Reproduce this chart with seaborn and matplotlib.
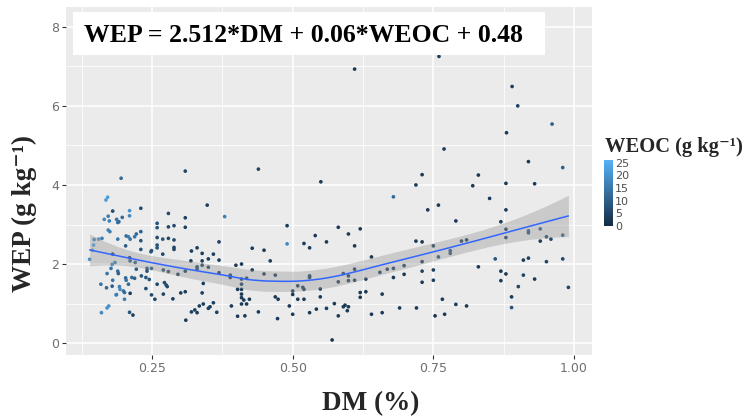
import numpy as np
import pandas as pd
import matplotlib
matplotlib.use("Agg")
import matplotlib.pyplot as plt
import seaborn as sns
from matplotlib.colors import LinearSegmentedColormap, Normalize
from matplotlib.cm import ScalarMappable
from matplotlib.patches import Rectangle
from matplotlib.ticker import FixedLocator

# Degree of mineralisation (fraction), water-extractable P and water-extractable OC per sample
dm = [
    0.195, 0.171, 0.168, 0.180, 0.172, 0.165, 0.174, 0.187, 0.189, 0.191,
    0.197, 0.172, 0.175, 0.155, 0.161, 0.189, 0.204, 0.146, 0.144, 0.139,
    0.180, 0.203, 0.184, 0.179, 0.177, 0.170, 0.189, 0.190, 0.203, 0.159,
    0.169, 0.179, 0.180, 0.192, 0.193, 0.199, 0.201, 0.187, 0.186, 0.201,
    0.173, 0.170, 0.160, 0.147,
    0.309, 0.210, 0.210, 0.230, 0.279, 0.309, 0.259, 0.259, 0.279, 0.289,
    0.309, 0.230, 0.222, 0.219, 0.208, 0.211, 0.230, 0.259, 0.269, 0.279,
    0.289, 0.289, 0.289, 0.249, 0.248, 0.259, 0.259, 0.269, 0.230, 0.210,
    0.220, 0.211, 0.222, 0.241, 0.241, 0.249, 0.270, 0.279, 0.296, 0.309,
    0.214, 0.219, 0.231, 0.239, 0.245, 0.204, 0.208, 0.259, 0.272, 0.275,
    0.277, 0.211, 0.239, 0.249, 0.255, 0.270, 0.287, 0.301, 0.309, 0.210,
    0.216,
    0.439, 0.348, 0.379, 0.369, 0.428, 0.449, 0.330, 0.320, 0.339, 0.359,
    0.350, 0.339, 0.339, 0.369, 0.319, 0.330, 0.330, 0.350, 0.369, 0.399,
    0.409, 0.389, 0.389, 0.428, 0.449, 0.409, 0.418, 0.402, 0.409, 0.409,
    0.409, 0.341, 0.339, 0.409, 0.413, 0.423, 0.418, 0.409, 0.359, 0.353,
    0.350, 0.341, 0.334, 0.326, 0.330, 0.320, 0.365, 0.310, 0.391, 0.402,
    0.415, 0.439,
    0.550, 0.490, 0.490, 0.540, 0.560, 0.581, 0.599, 0.610, 0.520, 0.530,
    0.460, 0.469, 0.530, 0.530, 0.590, 0.599, 0.610, 0.610, 0.599, 0.581,
    0.509, 0.518, 0.520, 0.500, 0.500, 0.549, 0.469, 0.474, 0.509, 0.520,
    0.549, 0.494, 0.542, 0.560, 0.574, 0.590, 0.593, 0.599, 0.597, 0.500,
    0.530, 0.581, 0.473, 0.570, 0.610,
    0.730, 0.719, 0.679, 0.759, 0.740, 0.620, 0.719, 0.730, 0.750, 0.759,
    0.640, 0.630, 0.655, 0.668, 0.679, 0.698, 0.698, 0.679, 0.730, 0.730,
    0.750, 0.750, 0.730, 0.620, 0.630, 0.620, 0.659, 0.640, 0.659, 0.690,
    0.720, 0.753, 0.770, 0.766,
    0.769, 0.830, 0.820, 0.879, 0.850, 0.879, 0.790, 0.870, 0.879, 0.879,
    0.800, 0.809, 0.780, 0.780, 0.860, 0.830, 0.870, 0.879, 0.870, 0.910,
    0.910, 0.901, 0.889, 0.889, 0.790, 0.809, 0.961, 0.919, 0.980, 0.930,
    0.890, 0.900, 0.760, 0.880, 0.919, 0.919, 0.940, 0.940, 0.951, 0.959,
    0.980, 0.919, 0.951, 0.980, 0.930, 0.990,
]
wep = [
    4.17, 3.69, 3.62, 3.34, 3.21, 3.13, 3.09, 3.13, 3.05, 3.07,
    3.18, 2.86, 2.82, 2.63, 2.65, 2.63, 2.71, 2.48, 2.35, 2.12,
    2.25, 2.46, 2.04, 1.99, 1.89, 1.76, 1.82, 1.76, 1.65, 1.49,
    1.40, 1.44, 1.59, 1.43, 1.36, 1.32, 1.28, 1.23, 1.22, 1.11,
    0.94, 0.89, 0.77, 2.62,
    4.35, 3.35, 3.22, 3.41, 3.28, 3.17, 3.03, 2.92, 2.94, 2.97,
    2.93, 2.82, 2.76, 2.69, 2.69, 2.63, 2.59, 2.67, 2.63, 2.65,
    2.61, 2.42, 2.37, 2.34, 2.31, 2.48, 2.41, 2.25, 2.37, 2.16,
    2.04, 2.08, 1.87, 1.89, 1.82, 1.89, 1.85, 1.81, 1.74, 1.82,
    1.66, 1.64, 1.70, 1.66, 1.61, 1.59, 1.49, 1.49, 1.53, 1.47,
    1.43, 1.26, 1.38, 1.22, 1.11, 1.24, 1.12, 1.27, 1.30, 0.78,
    0.71,
    4.40, 3.49, 3.20, 2.56, 2.40, 2.35, 2.41, 2.33, 2.27, 2.25,
    2.13, 2.08, 1.97, 2.10, 2.08, 1.93, 1.87, 1.92, 1.78, 1.97,
    2.00, 1.72, 1.66, 1.85, 1.75, 1.62, 1.64, 1.36, 1.36, 1.49,
    1.24, 1.51, 1.27, 1.15, 1.09, 1.11, 0.99, 0.99, 1.02, 0.92,
    0.88, 0.99, 0.94, 0.84, 0.77, 0.79, 0.78, 0.58, 0.94, 0.68,
    0.69, 0.79,
    4.08, 2.97, 2.51, 2.72, 2.56, 2.93, 2.76, 2.46, 2.52, 2.41,
    2.08, 1.72, 1.70, 1.66, 1.76, 1.70, 1.87, 1.59, 1.58, 1.55,
    1.45, 1.41, 1.36, 1.32, 1.23, 1.37, 1.17, 1.11, 1.11, 1.11,
    1.17, 0.94, 0.86, 0.88, 1.00, 0.92, 0.96, 0.92, 0.82, 0.73,
    0.77, 0.69, 0.62, 0.08, 6.93,
    4.26, 4.00, 3.70, 3.49, 3.37, 2.89, 2.58, 2.56, 2.46, 2.18,
    2.18, 1.62, 1.79, 1.87, 1.89, 1.96, 1.74, 1.66, 2.06, 1.82,
    1.85, 1.59, 1.54, 1.28, 1.30, 1.16, 1.24, 0.73, 0.77, 0.89,
    0.89, 0.69, 0.73, 1.11,
    4.91, 4.25, 3.98, 4.04, 3.66, 3.37, 3.09, 3.07, 2.88, 2.67,
    2.58, 2.61, 2.34, 2.27, 2.13, 1.93, 1.82, 1.75, 1.58, 2.10,
    1.72, 1.43, 1.17, 0.90, 0.98, 0.94, 5.54, 4.59, 4.44, 4.03,
    6.49, 6.00, 7.25, 5.32, 2.84, 2.79, 2.89, 2.58, 2.69, 2.63,
    2.73, 2.15, 2.06, 2.13, 1.62, 1.41,
]
weoc = [
    12, 22, 22, 6, 16, 18, 16, 14, 14, 12,
    12, 18, 16, 20, 16, 14, 12, 22, 22, 20,
    4, 10, 16, 18, 14, 14, 12, 10, 12, 14,
    12, 10, 14, 16, 18, 14, 12, 20, 16, 16,
    20, 20, 18, 18,
    5, 20, 18, 6, 6, 4, 8, 8, 6, 6,
    4, 10, 12, 14, 16, 14, 8, 6, 8, 6,
    6, 5, 5, 8, 8, 8, 8, 6, 8, 3,
    10, 10, 10, 8, 8, 8, 6, 6, 4, 4,
    12, 10, 8, 8, 8, 14, 12, 6, 6, 6,
    6, 4, 6, 6, 5, 5, 4, 4, 4, 8,
    4,
    5, 4, 16, 4, 3, 3, 4, 4, 4, 4,
    4, 4, 4, 4, 4, 5, 5, 4, 3, 3,
    3, 4, 4, 3, 3, 3, 3, 3, 3, 3,
    3, 4, 4, 3, 3, 3, 3, 3, 4, 4,
    4, 4, 4, 4, 4, 4, 4, 3, 3, 3,
    3, 3,
    3, 3, 18, 3, 3, 3, 3, 3, 3, 3,
    4, 3, 3, 3, 3, 3, 3, 3, 3, 3,
    3, 3, 3, 3, 3, 3, 3, 3, 3, 3,
    3, 3, 3, 3, 3, 3, 3, 3, 3, 3,
    3, 3, 3, 2, 3,
    3, 3, 12, 3, 3, 3, 3, 3, 3, 6,
    3, 3, 3, 3, 3, 3, 3, 3, 3, 5,
    4, 4, 3, 3, 3, 3, 3, 3, 3, 3,
    3, 2, 3, 3,
    3, 3, 3, 3, 3, 3, 3, 3, 3, 3,
    3, 3, 8, 8, 8, 3, 3, 3, 3, 3,
    5, 5, 3, 8, 3, 3, 10, 3, 10, 3,
    4, 4, 4, 3, 10, 8, 10, 4, 5, 6,
    10, 4, 5, 5, 3, 5,
]

x_ticks = [0.25, 0.50, 0.75, 1.00]
x_tick_labels = ["0.25", "0.50", "0.75", "1.00"]
y_ticks = [0, 2, 4, 6, 8]
cbar_ticks = [0, 5, 10, 15, 20, 25]
equation = "WEP = 2.512*DM + 0.06*WEOC + 0.48"


def loess_fit(x, y, grid, span=0.75):
    """Local quadratic regression (tricube weights) with pointwise 95% band."""
    x = np.asarray(x, float)
    y = np.asarray(y, float)
    n = len(x)
    q = int(np.floor(span * n))

    def row(x0):
        d = np.abs(x - x0)
        h = np.sort(d)[q - 1]
        w = np.clip(1 - (d / h) ** 3, 0, None) ** 3
        X = np.column_stack([np.ones(n), x - x0, (x - x0) ** 2])
        XtW = X.T * w
        return np.linalg.solve(XtW @ X, XtW)[0]

    L = np.array([row(v) for v in x])
    resid = y - L @ y
    M = np.eye(n) - L
    d1 = np.trace(M.T @ M)
    sigma = np.sqrt(np.sum(resid ** 2) / d1)
    Lg = np.array([row(v) for v in grid])
    fit = Lg @ y
    se = sigma * np.sqrt(np.sum(Lg ** 2, axis=1))
    return fit, fit - 1.97 * se, fit + 1.97 * se


df = pd.DataFrame({"DM": dm, "WEP": wep, "WEOC": weoc})
grid = np.linspace(min(dm), max(dm), 80)
fit, lo, hi = loess_fit(dm, wep, grid)
smooth = pd.DataFrame({"DM": grid, "WEP": fit})

sns.set_style("darkgrid", {"axes.facecolor": "#EBEBEB", "grid.color": "white"})

cmap = LinearSegmentedColormap.from_list("weoc", ["#132B43", "#56B1F7"])
norm = Normalize(vmin=0, vmax=26)
label_font = ["Liberation Serif", "DejaVu Serif"]

fig = plt.figure(figsize=(7.5, 4.17), dpi=100)
fig.patch.set_facecolor("white")
ax = fig.add_axes([66 / 750, 62 / 417, 526 / 750, 348 / 417])

sns.scatterplot(data=df, x="DM", y="WEP", hue="WEOC", palette=cmap,
                hue_norm=(0, 26), s=7, linewidth=0, legend=False,
                ax=ax, zorder=2)
ax.fill_between(grid, lo, hi, color="#999999", alpha=0.4, lw=0, zorder=3)
sns.lineplot(data=smooth, x="DM", y="WEP", color="#3366FF", lw=1.1,
             ax=ax, zorder=4)

ax.set_xlim(0.097, 1.032)
ax.set_ylim(-0.30, 8.5)
ax.set_xticks(x_ticks)
ax.set_xticklabels(x_tick_labels)
ax.set_yticks(y_ticks)
ax.xaxis.set_minor_locator(FixedLocator([0.125, 0.375, 0.625, 0.875]))
ax.yaxis.set_minor_locator(FixedLocator([1, 3, 5, 7]))
ax.grid(which="major", color="white", lw=1.1)
ax.grid(which="minor", color="white", lw=0.55)
ax.set_axisbelow(True)
ax.tick_params(which="major", length=2.8, width=0.8, color="#333333",
               labelcolor="#6E6E6E", labelsize=9, pad=2,
               bottom=True, left=True)
ax.tick_params(which="minor", length=0)
for s in ax.spines.values():
    s.set_visible(False)
ax.set_xlabel("")
ax.set_ylabel("")

# equation label in a white box
ax.add_patch(Rectangle((73 / 750, 1 - 55 / 417), 472 / 750, 43 / 417,
                       transform=fig.transFigure, facecolor="white",
                       edgecolor="none", zorder=5))
fig.text(304 / 750, 1 - 41.5 / 417, equation, ha="center", va="baseline",
         fontfamily=label_font, fontweight="bold", fontsize=18.5,
         color="black", zorder=6)

fig.text(371 / 750, 1 - 410 / 417, "DM (%)", ha="center", va="baseline",
         fontfamily=label_font, fontweight="bold", fontsize=19.5)
fig.text(24 / 750, 1 - 214 / 417, "WEP (g kg\u207b\u00b9)", ha="center",
         va="center", rotation=90, fontfamily=label_font,
         fontweight="bold", fontsize=19.5)

# colour bar legend
fig.text(605 / 750, 1 - 152 / 417, "WEOC (g kg\u207b\u00b9)", ha="left",
         va="baseline", fontfamily=label_font, fontweight="bold",
         fontsize=14.8)
cax = fig.add_axes([604 / 750, 1 - 226 / 417, 9 / 750, 66 / 417])
sm = ScalarMappable(norm=norm, cmap=cmap)
cb = fig.colorbar(sm, cax=cax, ticks=cbar_ticks)
cb.outline.set_visible(False)
cax.tick_params(length=2, width=0.6, color="white", direction="in",
                labelsize=8, labelcolor="#4D4D4D", pad=1.5)
cax.grid(False)

fig.savefig("out.png", dpi=100, facecolor="white")
